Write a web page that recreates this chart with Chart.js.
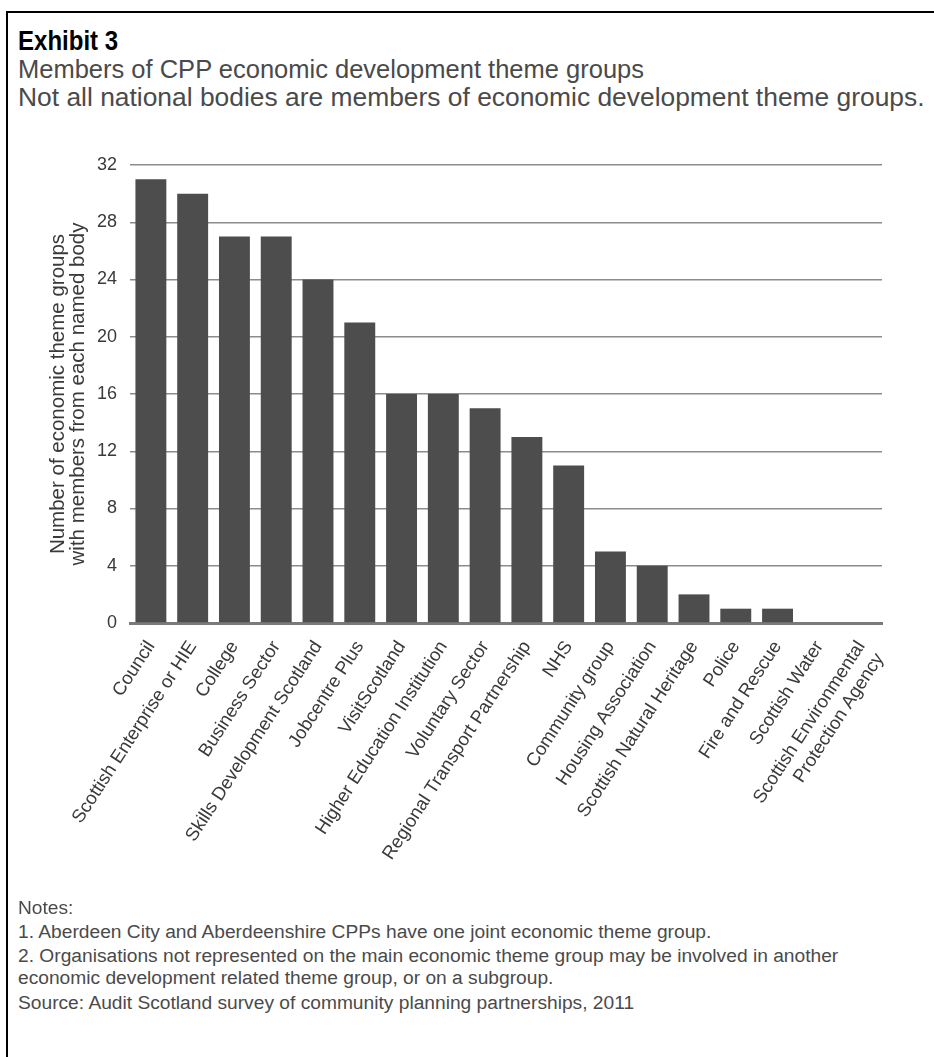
<!DOCTYPE html>
<html>
<head>
<meta charset="utf-8">
<script src="https://cdn.jsdelivr.net/npm/chart.js@4/dist/chart.umd.min.js"></script>
<style>
  html, body { margin: 0; padding: 0; background: #fff; }
  body { width: 934px; height: 1057px; position: relative; overflow: hidden; font-family: "Liberation Sans", Arial, sans-serif; }
  #frame { position: absolute; left: 6px; top: 11px; width: 960px; height: 1100px; border-left: 2px solid #000; border-top: 2px solid #000; }
  .t { position: absolute; left: 18px; white-space: nowrap; }
  #h1 { top: 26px; font-size: 27px; font-weight: bold; color: #000; line-height: 30px; transform: scaleX(0.89); transform-origin: 0 0; }
  #h2 { top: 55px; font-size: 25.5px; color: #4a4a4a; line-height: 28px; }
  #h3 { top: 83px; font-size: 26.4px; color: #4a4a4a; line-height: 28px; }
  .n { font-size: 19.2px; color: #4a4a4a; line-height: 22px; }
  #chartwrap { position: absolute; left: 0; top: 140px; width: 934px; height: 760px; }
</style>
</head>
<body>
<div id="frame"></div>
<div class="t" id="h1">Exhibit 3</div>
<div class="t" id="h2">Members of CPP economic development theme groups</div>
<div class="t" id="h3">Not all national bodies are members of economic development theme groups.</div>
<div id="chartwrap"><canvas id="c"></canvas></div>
<div class="t n" style="top:897px">Notes:</div>
<div class="t n" style="top:921px">1. Aberdeen City and Aberdeenshire CPPs have one joint economic theme group.</div>
<div class="t n" style="top:945px">2. Organisations not represented on the main economic theme group may be involved in another</div>
<div class="t n" style="top:967px">economic development related theme group, or on a subgroup.</div>
<div class="t n" style="top:992px">Source: Audit Scotland survey of community planning partnerships, 2011</div>
<script>
const categories = [
  "Council",
  "Scottish Enterprise or HIE",
  "College",
  "Business Sector",
  "Skills Development Scotland",
  "Jobcentre Plus",
  "VisitScotland",
  "Higher Education Institution",
  "Voluntary Sector",
  "Regional Transport Partnership",
  "NHS",
  "Community group",
  "Housing Association",
  "Scottish Natural Heritage",
  "Police",
  "Fire and Rescue",
  "Scottish Water",
  ["Scottish Environmental", "Protection Agency"]
];
const memberCounts = [31, 30, 27, 27, 24, 21, 16, 16, 15, 13, 11, 5, 4, 2, 1, 1, 0, 0];
const yTicks = [0, 4, 8, 12, 16, 20, 24, 28, 32];
const yTitle = ["Number of economic theme groups", "with members from each named body"];

const FONT = '"Liberation Sans", Arial, sans-serif';

new Chart(document.getElementById('c'), {
  type: 'bar',
  data: {
    labels: categories,
    datasets: [{
      data: memberCounts,
      backgroundColor: '#4d4d4d',
      borderWidth: 0,
      barPercentage: 0.74,
      categoryPercentage: 1.0
    }]
  },
  options: {
    responsive: true,
    maintainAspectRatio: false,
    animation: false,
    events: [],
    layout: { padding: { top: 25, right: 52, left: 40, bottom: 0 } },
    plugins: { legend: { display: false }, tooltip: { enabled: false } },
    scales: {
      x: {
        offset: true,
        grid: { display: false },
        border: { display: true, color: '#7a7a7a', width: 3 },
        ticks: {
          autoSkip: false,
          minRotation: 57,
          maxRotation: 57,
          padding: 6,
          color: '#3a3a3a',
          font: { family: FONT, size: 18.5 }
        },
        afterFit: s => { s.height = 277; }
      },
      y: {
        min: 0,
        max: 32,
        afterBuildTicks: s => { s.ticks = yTicks.map(v => ({ value: v })); },
        grid: { color: '#8c8c8c', lineWidth: 1.5, drawTicks: false },
        border: { display: false },
        ticks: {
          padding: 13,
          color: '#3a3a3a',
          font: { family: FONT, size: 18 }
        },
        title: {
          display: true,
          text: yTitle,
          color: '#3a3a3a',
          padding: { top: 8, bottom: 0 },
          font: { family: FONT, size: 20.5, lineHeight: '20px' }
        },
        afterFit: s => { s.width = 90; }
      }
    }
  }
});
</script>
</body>
</html>
